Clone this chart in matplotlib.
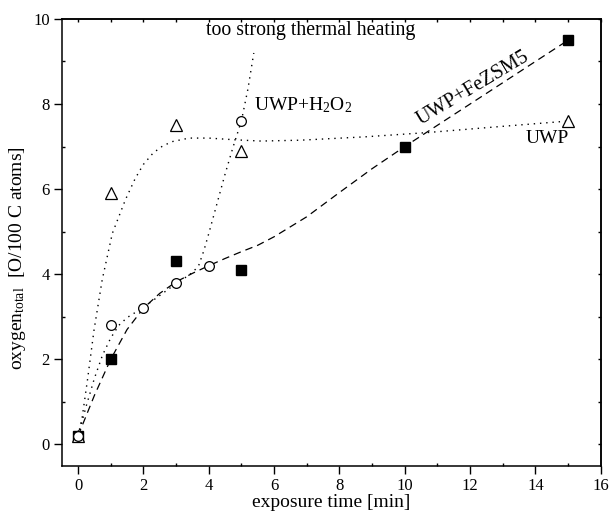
import matplotlib
matplotlib.use('Agg')
import matplotlib.pyplot as plt
from matplotlib.ticker import MultipleLocator

plt.rcParams['font.family'] = ['Liberation Serif', 'DejaVu Serif']
plt.rcParams['mathtext.fontset'] = 'custom'
plt.rcParams['mathtext.rm'] = 'Liberation Serif'
plt.rcParams['mathtext.it'] = 'Liberation Serif:italic'

# measured points
fe_x = [0, 1, 3, 5, 10, 15]
fe_y = [0.2, 2.0, 4.3, 4.1, 7.0, 9.5]

uwp_x = [0, 1, 3, 5, 15]
uwp_y = [0.2, 5.9, 7.5, 6.9, 7.6]

h2o2_x = [0, 1, 2, 3, 4, 5]
h2o2_y = [0.2, 2.8, 3.2, 3.8, 4.2, 7.6]

# fit curves
fe_fit_x = [0, 0.5, 1, 1.5, 2, 2.5, 3, 3.5, 4, 4.5, 5, 5.5, 6, 7, 8, 9, 10, 11, 12, 13, 14, 15]
fe_fit_y = [0.2, 1.15, 2.0, 2.7, 3.2, 3.55, 3.82, 4.02, 4.2, 4.37, 4.53, 4.68, 4.88, 5.35,
            5.92, 6.48, 7.0, 7.5, 8.0, 8.5, 9.0, 9.5]

uwp_fit_x = [0, 0.13, 0.29, 0.49, 0.74, 1.05, 1.45, 1.75, 2.0, 2.3, 2.6, 2.9, 3.4, 4.0,
             4.8, 5.6, 6.8, 8.8, 10.7, 12.9, 15]
uwp_fit_y = [0.2, 0.65, 1.52, 2.69, 3.87, 4.96, 5.75, 6.25, 6.58, 6.85, 7.02, 7.12, 7.2, 7.2,
             7.16, 7.13, 7.15, 7.23, 7.33, 7.47, 7.6]

h2o2_fit_x = [0, 0.25, 0.5, 0.75, 1.0, 1.25, 1.5, 2.0, 2.5, 3.0, 3.4, 3.6, 3.7, 3.85, 4.0,
              4.25, 4.5, 4.75, 5.0, 5.2, 5.38]
h2o2_fit_y = [0.2, 0.9, 1.55, 2.1, 2.5, 2.8, 2.98, 3.22, 3.5, 3.78, 3.98, 4.12, 4.22, 4.55,
              4.95, 5.65, 6.35, 7.0, 7.6, 8.35, 9.2]

fig = plt.figure(figsize=(6.09, 5.12), dpi=100)
ax = fig.add_axes([0.1013, 0.0904, 0.8851, 0.8726])

dot = (0, (1, 3.5))
dash = (0, (6, 4))
ax.plot(fe_fit_x, fe_fit_y, color='black', lw=0.9, linestyle=dash)
ax.plot(uwp_fit_x, uwp_fit_y, color='black', lw=1.0, linestyle=dot)
ax.plot(h2o2_fit_x, h2o2_fit_y, color='black', lw=1.0, linestyle=dot)

ax.plot(fe_x, fe_y, 's', color='black', ms=7, linestyle='none')
ax.plot(uwp_x, uwp_y, '^', mfc='white', mec='black', mew=0.9, ms=8, linestyle='none')
ax.plot(h2o2_x, h2o2_y, 'o', mfc='white', mec='black', mew=0.9, ms=7, linestyle='none')

ax.text(3.93, 9.62, 'too strong thermal heating', fontsize=14.3, ha='left', va='baseline')
ax.text(5.38, 7.86, r'UWP+H$_2$O$_2$', fontsize=14, ha='left', va='baseline')
ax.text(15.02, 7.09, 'UWP', fontsize=14, ha='right', va='baseline')
ax.text(12.16, 8.29, 'UWP+FeZSM5', fontsize=14.5, ha='center', va='baseline',
        rotation=31, rotation_mode='anchor')

ax.set_xlim(-0.5, 16)
ax.set_ylim(-0.5, 10)
ax.xaxis.set_major_locator(MultipleLocator(2))
ax.xaxis.set_minor_locator(MultipleLocator(1))
ax.yaxis.set_major_locator(MultipleLocator(2))
ax.yaxis.set_minor_locator(MultipleLocator(1))
ax.tick_params(which='major', direction='out', length=5.5, width=1, labelsize=12, pad=3)
ax.tick_params(which='minor', direction='in', length=2.5, width=1)
for s in ax.spines.values():
    s.set_linewidth(1.1)

top = ax.secondary_xaxis('top')
top.xaxis.set_major_locator(MultipleLocator(1))
top.tick_params(direction='in', length=2.5, width=1, labeltop=False)
top.spines['top'].set_linewidth(1.1)
right = ax.secondary_yaxis('right')
right.yaxis.set_major_locator(MultipleLocator(1))
right.tick_params(direction='in', length=2.5, width=1, labelright=False)
right.spines['right'].set_linewidth(1.1)

ax.set_xlabel('exposure time [min]', fontsize=14, labelpad=0)
ax.set_ylabel(r'oxygen$_{\mathrm{total}}$  [O/100 C atoms]', fontsize=14)
ax.yaxis.set_label_coords(-0.063, 0.465)

fig.savefig('out.png', dpi=100)
